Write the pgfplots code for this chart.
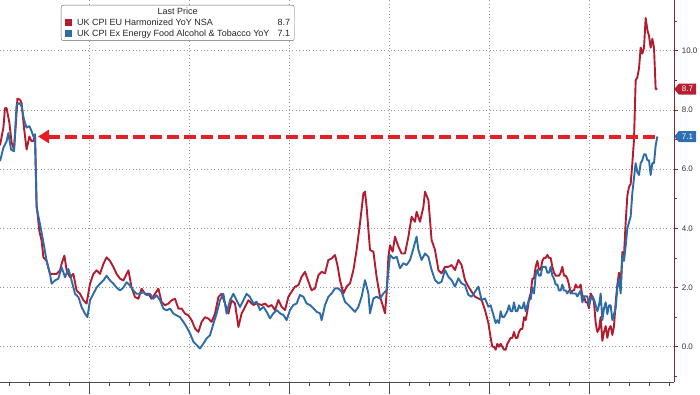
\documentclass[border=0pt]{standalone}
\usepackage{fontspec}
\setmainfont{Liberation Sans}
\usepackage{pgfplots}
\pgfplotsset{compat=1.18}
\usetikzlibrary{arrows.meta,shapes.symbols}
\definecolor{cpired}{RGB}{178,28,48}
\definecolor{cpiblue}{RGB}{46,108,168}
\definecolor{arrowred}{RGB}{228,32,38}
\definecolor{axisred}{RGB}{120,45,55}
\definecolor{gridgray}{RGB}{150,150,150}
\definecolor{tagred}{RGB}{185,30,50}
\definecolor{tagblue}{RGB}{45,110,180}
\begin{document}
\begin{tikzpicture}
\begin{axis}[
  at={(0pt,0pt)}, anchor=south west,
  scale only axis, width=674pt, height=382pt,
  xmin=1990.55, xmax=2024.25, ymin=-1.19, ymax=11.71,
  axis x line*=bottom, axis y line*=right,
  x axis line style={draw=black!70, line width=0.8pt, -},
  y axis line style={draw=axisred, line width=0.8pt, -},
  xtick={1995,2000,...,2020}, minor xtick={1991,...,2024}, xticklabels={},
  ytick={0,2,...,10}, minor ytick={-1,1,...,11},
  tick align=outside,
  xtick style={draw=black!70, line width=0.6pt, /pgfplots/major tick length=12pt, /pgfplots/minor tick length=4pt},
  ytick style={draw=axisred, line width=0.6pt, /pgfplots/major tick length=4pt, /pgfplots/minor tick length=3pt},
  xmajorgrids, ymajorgrids,
  major grid style={draw=gridgray, dash pattern=on 0.8pt off 2.6pt, line width=0.6pt},
  yticklabel style={font=\fontsize{8}{9}\selectfont, text=black!80, /pgf/number format/.cd, fixed, fixed zerofill, precision=1, assume math mode=true},
  clip=false,
  legend style={at={(axis description cs:0.0905,0.893)}, anchor=south west, draw=black!60, rounded corners=2pt, fill=white, font=\fontsize{9}{10}\selectfont, text=black!85, inner xsep=3.5pt, inner ysep=2pt, row sep=0.75pt, column sep=0pt, nodes={inner sep=0.5pt, text height=7pt, text depth=2pt}},
  legend cell align=left,
  legend image code/.code={},
]
\addlegendimage{empty legend}
\addlegendentry{\makebox[225pt][c]{\rule{0pt}{13pt}Last Price}}

\addplot[cpired, line width=1.9pt, line join=round] coordinates {
(1990.55,6.80)(1990.72,7.40)(1990.80,8.06)(1990.88,8.06)(1991.02,7.56)(1991.13,6.90)(1991.25,6.66)(1991.35,7.60)(1991.42,8.38)(1991.55,8.34)(1991.63,8.23)(1991.75,7.40)(1991.88,6.66)(1992.02,7.10)(1992.13,6.94)(1992.22,6.94)(1992.30,7.17)(1992.38,4.80)(1992.52,3.90)(1992.63,3.58)(1992.72,3.02)(1992.88,2.90)(1993.05,2.46)(1993.22,2.46)(1993.38,2.46)(1993.55,2.58)(1993.63,2.80)(1993.77,3.08)(1993.88,2.58)(1994.05,2.35)(1994.22,2.46)(1994.38,1.90)(1994.55,1.79)(1994.72,1.57)(1994.88,1.46)(1995.05,2.13)(1995.22,2.46)(1995.38,2.58)(1995.55,2.46)(1995.72,2.80)(1995.88,3.02)(1996.05,2.90)(1996.22,2.69)(1996.38,2.46)(1996.55,2.30)(1996.72,2.24)(1996.88,2.46)(1996.97,2.58)(1997.13,2.00)(1997.30,1.68)(1997.47,1.62)(1997.63,1.96)(1997.80,1.79)(1997.97,1.79)(1998.13,1.62)(1998.30,1.79)(1998.47,1.96)(1998.63,1.51)(1998.80,1.40)(1998.97,1.46)(1999.13,1.57)(1999.30,1.62)(1999.47,1.29)(1999.63,1.29)(1999.80,1.12)(1999.97,1.06)(2000.13,0.90)(2000.30,0.62)(2000.47,0.50)(2000.63,0.84)(2000.80,1.00)(2000.97,0.95)(2001.13,0.84)(2001.30,1.12)(2001.47,1.68)(2001.63,1.79)(2001.80,1.46)(2001.97,1.12)(2002.13,1.57)(2002.30,1.46)(2002.47,0.67)(2002.63,1.12)(2002.80,1.34)(2002.97,1.57)
(2003.22,1.41)(2003.38,1.46)(2003.63,1.41)(2003.80,1.46)(2003.97,1.35)(2004.13,1.41)(2004.30,1.24)(2004.47,1.58)(2004.63,1.35)(2004.80,1.24)(2004.97,1.69)(2005.13,1.86)(2005.30,2.03)(2005.47,2.08)(2005.63,2.36)(2005.80,2.53)(2005.97,2.20)(2006.13,1.91)(2006.30,1.97)(2006.47,2.42)(2006.63,2.53)(2006.80,2.48)(2006.97,2.93)(2007.13,2.98)(2007.30,3.10)(2007.42,2.76)(2007.55,2.25)(2007.72,1.80)(2007.88,2.03)(2008.05,2.14)(2008.22,2.59)(2008.38,3.27)(2008.55,4.17)(2008.72,5.18)(2008.80,5.24)(2008.88,4.73)(2009.05,3.27)(2009.22,3.21)(2009.38,2.36)(2009.55,1.69)(2009.68,1.41)(2009.80,1.13)(2009.88,1.80)(2009.97,3.04)(2010.05,3.43)(2010.18,3.21)(2010.30,3.72)(2010.47,3.38)(2010.63,3.15)(2010.80,3.15)(2010.97,3.72)(2011.13,4.39)(2011.30,4.22)(2011.38,4.56)(2011.55,4.22)(2011.72,4.73)(2011.80,5.24)(2011.97,4.95)(2012.13,3.60)(2012.30,3.27)(2012.47,2.59)(2012.63,2.48)(2012.80,2.70)(2012.97,2.70)(2013.13,2.76)(2013.30,2.59)(2013.47,2.93)(2013.63,2.76)(2013.80,2.25)(2013.97,2.03)(2014.13,1.86)(2014.30,1.69)(2014.47,1.63)(2014.63,1.58)(2014.80,1.24)(2014.97,0.79)
(2015.083,0.3)(2015.167,0.0)(2015.250,0.0)(2015.333,-0.1)(2015.417,0.1)(2015.500,0.0)(2015.583,0.1)(2015.667,0.0)(2015.750,-0.1)(2015.833,-0.1)(2015.917,0.1)(2016.000,0.2)
(2016.083,0.3)(2016.167,0.3)(2016.250,0.5)(2016.333,0.3)(2016.417,0.3)(2016.500,0.5)(2016.583,0.6)(2016.667,0.6)(2016.750,1.0)(2016.833,0.9)(2016.917,1.2)(2017.000,1.6)
(2017.083,1.8)(2017.167,2.3)(2017.250,2.3)(2017.333,2.7)(2017.417,2.9)(2017.500,2.6)(2017.583,2.6)(2017.667,2.9)(2017.750,3.0)(2017.833,3.0)(2017.917,3.1)(2018.000,3.0)
(2018.083,3.0)(2018.167,2.7)(2018.250,2.5)(2018.333,2.4)(2018.417,2.4)(2018.500,2.4)(2018.583,2.5)(2018.667,2.7)(2018.750,2.4)(2018.833,2.4)(2018.917,2.3)(2019.000,2.1)
(2019.083,1.8)(2019.167,1.9)(2019.250,1.9)(2019.333,2.1)(2019.417,2.0)(2019.500,2.0)(2019.583,2.1)(2019.667,1.7)(2019.750,1.7)(2019.833,1.5)(2019.917,1.5)(2020.000,1.3)
(2020.083,1.8)(2020.167,1.7)(2020.250,1.5)(2020.333,0.8)(2020.417,0.5)(2020.500,0.6)(2020.583,1.0)(2020.667,0.2)(2020.750,0.5)(2020.833,0.7)(2020.917,0.3)(2021.000,0.6)
(2021.083,0.7)(2021.167,0.4)(2021.250,0.7)(2021.333,1.5)(2021.417,2.1)(2021.500,2.5)(2021.583,2.0)(2021.667,3.2)(2021.750,3.1)(2021.833,4.2)(2021.917,5.1)(2022.000,5.4)
(2022.083,5.5)(2022.167,6.2)(2022.250,7.0)(2022.333,9.0)(2022.417,9.1)(2022.500,9.4)(2022.583,10.1)(2022.667,9.9)(2022.750,10.1)(2022.833,11.1)(2022.917,10.7)(2023.000,10.5)
(2023.083,10.1)(2023.167,10.4)(2023.250,10.1)(2023.333,8.7)(2023.417,8.7)
};
\addlegendentry{\makebox[225pt][l]{\textcolor{cpired}{\rule[-0.6pt]{7pt}{7pt}}\hspace{5pt}UK CPI EU Harmonized YoY NSA\hfill 8.7}}

\addplot[cpiblue, line width=1.9pt, line join=round] coordinates {
(1990.55,6.27)(1990.72,6.72)(1990.88,6.94)(1990.97,7.22)(1991.10,6.66)(1991.25,6.60)(1991.38,8.17)(1991.52,8.23)(1991.63,8.12)(1991.75,7.67)(1991.88,7.40)(1992.02,7.45)(1992.13,7.28)(1992.22,7.10)(1992.30,7.17)(1992.38,4.70)(1992.55,4.14)(1992.72,3.53)(1992.88,2.90)(1993.05,2.46)(1993.13,2.13)(1993.30,2.24)(1993.47,2.30)(1993.63,2.69)(1993.80,2.35)(1993.97,2.63)(1994.13,2.24)(1994.30,1.79)(1994.47,1.68)(1994.63,1.34)(1994.80,1.12)(1994.92,1.00)(1995.05,1.57)(1995.22,1.79)(1995.38,2.00)(1995.55,2.13)(1995.72,2.24)(1995.88,2.40)(1996.05,2.24)(1996.22,2.13)(1996.38,2.00)(1996.55,1.90)(1996.72,2.00)(1996.88,2.18)(1997.05,2.07)(1997.22,1.90)(1997.38,1.79)(1997.55,1.79)(1997.72,1.85)(1997.88,1.74)(1998.05,1.79)(1998.22,1.62)(1998.38,1.74)(1998.55,1.57)(1998.72,1.29)(1998.88,1.23)(1999.05,1.29)(1999.22,1.12)(1999.38,1.06)(1999.55,1.00)(1999.72,0.84)(1999.88,0.67)(2000.05,0.45)(2000.22,0.17)(2000.38,0.06)(2000.55,-0.06)(2000.72,0.11)(2000.88,0.28)(2001.05,0.39)(2001.22,0.78)(2001.38,1.12)(2001.55,1.57)(2001.72,1.79)(2001.88,1.12)(2002.05,1.57)(2002.22,1.79)(2002.38,1.57)(2002.55,1.34)(2002.72,1.57)(2002.88,1.79)
(2003.05,1.68)(2003.22,1.46)(2003.38,1.52)(2003.55,1.24)(2003.72,1.35)(2003.88,1.18)(2004.05,0.96)(2004.22,1.13)(2004.38,1.24)(2004.55,1.13)(2004.72,1.07)(2004.88,0.90)(2005.05,1.24)(2005.22,1.41)(2005.38,1.46)(2005.55,1.75)(2005.72,1.69)(2005.88,1.46)(2006.05,1.41)(2006.22,1.30)(2006.38,1.18)(2006.55,1.13)(2006.63,0.90)(2006.80,1.41)(2006.97,1.69)(2007.13,1.80)(2007.30,1.97)(2007.47,1.97)(2007.63,1.86)(2007.80,1.52)(2007.97,1.41)(2008.13,1.30)(2008.30,1.18)(2008.47,1.35)(2008.63,1.69)(2008.80,2.25)(2008.97,1.80)(2009.05,1.13)(2009.22,1.63)(2009.38,1.69)(2009.55,1.63)(2009.72,1.80)(2009.88,1.91)(2010.05,3.10)(2010.22,2.98)(2010.38,3.04)(2010.55,2.65)(2010.72,2.82)(2010.88,2.76)(2011.05,2.93)(2011.22,3.32)(2011.38,3.72)(2011.47,3.27)(2011.63,2.93)(2011.80,3.15)(2011.97,3.04)(2012.13,2.59)(2012.30,2.25)(2012.47,2.14)(2012.63,2.20)(2012.80,2.59)(2012.97,2.36)(2013.13,2.25)(2013.30,2.03)(2013.47,2.31)(2013.63,2.14)(2013.80,2.08)(2013.97,1.75)(2014.13,1.69)(2014.30,1.86)(2014.47,2.03)(2014.63,1.58)(2014.80,1.63)(2014.97,1.35)
(2015.083,1.4)(2015.167,1.2)(2015.250,1.0)(2015.333,0.8)(2015.417,0.9)(2015.500,0.8)(2015.583,1.2)(2015.667,1.0)(2015.750,1.0)(2015.833,1.1)(2015.917,1.2)(2016.000,1.4)
(2016.083,1.2)(2016.167,1.2)(2016.250,1.5)(2016.333,1.2)(2016.417,1.2)(2016.500,1.4)(2016.583,1.3)(2016.667,1.3)(2016.750,1.5)(2016.833,1.2)(2016.917,1.4)(2017.000,1.6)
(2017.083,1.6)(2017.167,2.0)(2017.250,1.8)(2017.333,2.4)(2017.417,2.6)(2017.500,2.4)(2017.583,2.4)(2017.667,2.7)(2017.750,2.7)(2017.833,2.7)(2017.917,2.5)(2018.000,2.5)
(2018.083,2.7)(2018.167,2.4)(2018.250,2.3)(2018.333,2.1)(2018.417,2.1)(2018.500,1.9)(2018.583,1.9)(2018.667,2.1)(2018.750,1.9)(2018.833,1.9)(2018.917,1.8)(2019.000,1.9)
(2019.083,1.9)(2019.167,1.8)(2019.250,1.8)(2019.333,1.8)(2019.417,1.7)(2019.500,1.8)(2019.583,1.9)(2019.667,1.5)(2019.750,1.7)(2019.833,1.7)(2019.917,1.7)(2020.000,1.4)
(2020.083,1.6)(2020.167,1.7)(2020.250,1.6)(2020.333,1.4)(2020.417,1.2)(2020.500,1.4)(2020.583,1.8)(2020.667,0.9)(2020.750,1.3)(2020.833,1.5)(2020.917,1.1)(2021.000,1.4)
(2021.083,1.4)(2021.167,0.9)(2021.250,1.1)(2021.333,1.3)(2021.417,2.0)(2021.500,2.3)(2021.583,1.8)(2021.667,3.1)(2021.750,2.9)(2021.833,3.4)(2021.917,4.0)(2022.000,4.2)
(2022.083,4.4)(2022.167,5.2)(2022.250,5.7)(2022.333,6.2)(2022.417,5.9)(2022.500,5.8)(2022.583,6.2)(2022.667,6.3)(2022.750,6.5)(2022.833,6.5)(2022.917,6.3)(2023.000,6.3)
(2023.083,5.8)(2023.167,6.2)(2023.250,6.2)(2023.333,6.8)(2023.417,7.1)
};
\addlegendentry{\makebox[225pt][l]{\textcolor{cpiblue}{\rule[-0.6pt]{7pt}{7pt}}\hspace{5pt}UK CPI Ex Energy Food Alcohol \& Tobacco YoY\hfill 7.1}}

\addplot[arrowred, line width=4pt, dash pattern=on 12pt off 5pt, -{Triangle[length=11pt,width=13pt]}, forget plot] coordinates {(2023.30,7.1) (1992.45,7.1)};

\node[signal, signal to=west, signal pointer angle=100, fill=tagred, text=white, font=\fontsize{8}{9}\selectfont, inner xsep=3pt, inner ysep=1pt, minimum height=11pt, anchor=west] at (axis cs:2024.25,8.7) {8.7};
\node[signal, signal to=west, signal pointer angle=100, fill=tagblue, text=white, font=\fontsize{8}{9}\selectfont, inner xsep=3pt, inner ysep=1pt, minimum height=11pt, anchor=west] at (axis cs:2024.25,7.1) {7.1};
\end{axis}
\pgfresetboundingbox
\path[use as bounding box] (0pt,-12pt) rectangle (700pt,382pt);
\end{tikzpicture}
\end{document}
